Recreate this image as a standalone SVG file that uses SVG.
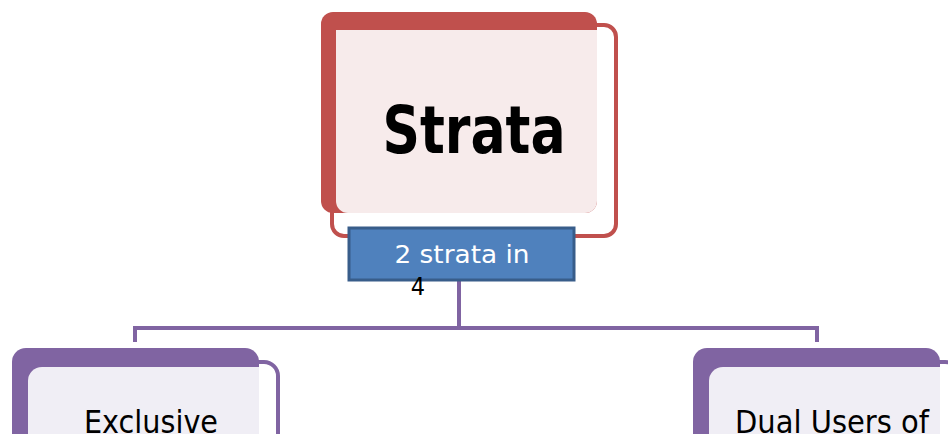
<svg xmlns="http://www.w3.org/2000/svg" width="948" height="434" viewBox="0 0 948 434">
<style>
.red-out{fill:#ffffff;stroke:#C0504D;stroke-width:4}
.red-back{fill:#C0504D}
.red-in{fill:#F7EBEB}
.pur-out{fill:#ffffff;stroke:#8064A2;stroke-width:4}
.pur-back{fill:#8064A2}
.pur-in{fill:#F0EEF5}
.conn{fill:none;stroke:#8064A2;stroke-width:4}
.t{font-family:"DejaVu Sans Condensed","DejaVu Sans",sans-serif}
</style>
<rect width="948" height="434" fill="#ffffff"/>
<g id="connectors">
<line x1="459" y1="218" x2="459" y2="230" stroke="#E4E0EC" stroke-width="4"/>
<path class="conn" d="M459 280 V328 M135 342 V328 H817 V342"/>
</g>
<g id="node-strata">
<rect class="red-out" x="332" y="25" width="284" height="211" rx="12"/>
<rect class="red-back" x="321" y="12" width="276" height="201" rx="12"/>
<path class="red-in" d="M336 30 H597 V201 a12 12 0 0 1 -12 12 H348 a12 12 0 0 1 -12 -12 Z"/>
<text class="t" x="474" y="153" font-size="66" font-weight="bold" text-anchor="middle" textLength="183" lengthAdjust="spacingAndGlyphs">Strata</text>
</g>
<g id="label-strata">
<rect x="349" y="228" width="225" height="52" fill="#4F81BD" stroke="#385D8A" stroke-width="3"/>
<text class="t" x="462" y="263" font-size="25" fill="#ffffff" text-anchor="middle" textLength="135" lengthAdjust="spacingAndGlyphs">2 strata in</text>
<text class="t" x="418" y="295" font-size="25" fill="#000000" text-anchor="middle">4</text>
</g>
<g id="node-exclusive">
<rect class="pur-out" x="27" y="362" width="251" height="100" rx="14"/>
<rect class="pur-back" x="12" y="348" width="247" height="100" rx="14"/>
<path class="pur-in" d="M28 381 a14 14 0 0 1 14 -14 H259 V440 H28 Z"/>
<text class="t" x="151" y="433" font-size="32" text-anchor="middle" textLength="134" lengthAdjust="spacingAndGlyphs">Exclusive</text>
</g>
<g id="node-dual">
<rect class="pur-out" x="708" y="362" width="251" height="100" rx="14"/>
<rect class="pur-back" x="693" y="348" width="247" height="100" rx="14"/>
<path class="pur-in" d="M709 381 a14 14 0 0 1 14 -14 H940 V440 H709 Z"/>
<text class="t" x="832" y="433" font-size="32" text-anchor="middle" textLength="194" lengthAdjust="spacingAndGlyphs">Dual Users of</text>
</g>
</svg>
